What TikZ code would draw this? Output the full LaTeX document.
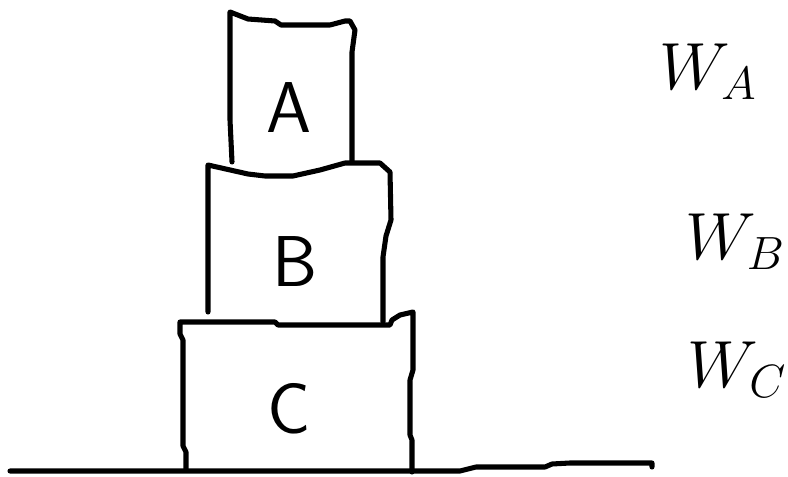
\documentclass[tikz,border=0pt]{standalone}
\usepackage{fix-cm}
\usepackage{tikz}
\tikzset{every picture/.style={line width=0.75pt}}
\tikzset{sketch/.style={line width=3.8pt, line join=round, line cap=round},
	handtext/.style={font=\fontsize{54}{58}\selectfont\sffamily},
	weighttext/.style={font=\fontsize{50}{54}\selectfont}}

\begin{document}
\begin{tikzpicture}[x=0.75pt,y=0.75pt,yscale=-1,xscale=1]
		%set diagram left start at 0, and has height of 477
		\useasboundingbox (0,0) rectangle (788,477);
		
		%Shape: Box A
		\draw [sketch]  (232,162) -- (230,120) -- (230,12) -- (248,19) -- (275,21) -- (281,25) -- (330,25) -- (345,21) -- (350,21) -- (355,30) -- (352,52) -- (352,162) ;
		%Shape: Box B
		\draw [sketch]  (208,312) -- (208,165) -- (248,174) -- (265,176) -- (293,176) -- (320,170) -- (345,163) -- (380,163) -- (390,172) -- (391,220) -- (386,236) -- (383,257) -- (383,322) ;
		%Shape: Box C
		\draw [sketch]  (186,470) -- (186,452) -- (183,446) -- (183,340) -- (180,334) -- (180,322) -- (275,322) -- (278,325) -- (390,325) -- (392,320) -- (400,315) -- (413,312) -- (413,370) -- (410,380) -- (410,435) -- (412,440) -- (412,472) ;
		%Straight Lines: ground
		\draw [sketch]  (10,471) -- (460,471) -- (476,467) -- (545,467) -- (552,464) -- (570,463) -- (652,463) -- (652,467) ;
		
		% Text Node
		\node [handtext] (labA) at (289,108) {A};
		% Text Node
		\node [handtext] (labB) at (295,262) {B};
		% Text Node
		\node [handtext] (labC) at (289,409) {C};
		% Text Node
		\node [weighttext] (wA) at (708,72) {$W_{A}$};
		% Text Node
		\node [weighttext] (wB) at (735,242) {$W_{B}$};
		% Text Node
		\node [weighttext] (wC) at (737,370) {$W_{C}$};
\end{tikzpicture}
\end{document}
